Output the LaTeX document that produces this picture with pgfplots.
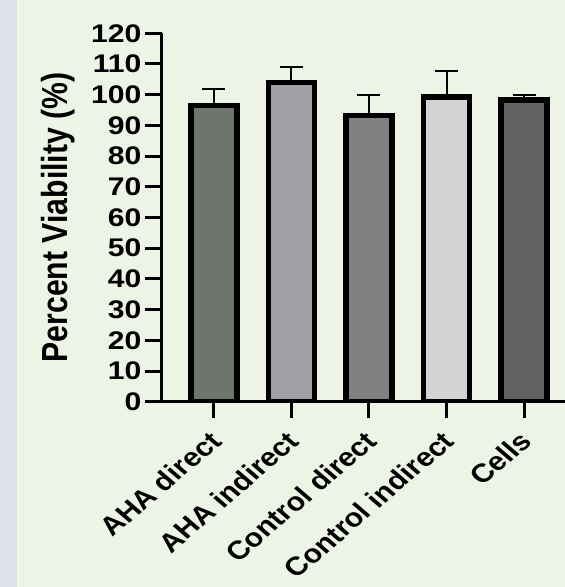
\documentclass[border=0pt]{standalone}
\usepackage{fontspec}
\setmainfont{Liberation Sans}
\usepackage{pgfplots}
\pgfplotsset{compat=1.18}
\definecolor{bg}{HTML}{EDF4E5}
\definecolor{strip}{HTML}{DCE1EA}
\definecolor{cA}{HTML}{6E756D}
\definecolor{cB}{HTML}{A0A0A4}
\definecolor{cC}{HTML}{808080}
\definecolor{cD}{HTML}{D3D3D3}
\definecolor{cE}{HTML}{626262}
\begin{document}
\begin{tikzpicture}
\useasboundingbox (0,0) rectangle (565pt,587pt);
\fill[bg] (0,0) rectangle (565pt,587pt);
\fill[strip] (0,0) rectangle (17.3pt,587pt);
\begin{axis}[
  at={(161.7pt,185.3pt)}, anchor=south west,
  scale only axis, width=403.3pt, height=368.4pt,
  xmin=-0.671, xmax=4.526, ymin=0, ymax=120,
  axis lines=left,
  axis line style={-, line width=3pt, black},
  ytick={0,10,...,120},
  xtick={0,1,2,3,4},
  xticklabels={AHA direct, AHA indirect, Control direct, Control indirect, Cells},
  tick align=outside, major tick length=16.5pt,
  tick style={line width=3pt, black},
  yticklabel style={font=\fontsize{25.5}{27}\selectfont\bfseries, xscale=1.18, anchor=east, inner sep=0pt, xshift=-3pt},
  xticklabel style={font=\fontsize{26}{28}\selectfont\bfseries, yshift=-18pt, xshift=2pt, xscale=1.165, rotate=45, anchor=east, inner sep=0pt},
  /pgf/number format/assume math mode=true,
  every axis y label/.style={at={(rel axis cs:0,0.5)}, xshift=-103.7pt, xscale=1.2, rotate=90, anchor=center, font=\fontsize{30.2}{32}\selectfont\bfseries},
  ylabel={Percent Viability (\%)},
  ybar, bar width=46pt, bar shift=0pt,
]
\addplot[fill=cA, draw=black, line width=5.5pt,
  error bars/.cd, y dir=plus, y explicit,
  error bar style={line width=2pt, black},
  error mark options={rotate=90, line width=2pt, mark size=11.5pt, black}]
  coordinates {(0,96.5) +- (0,5.3)};
\addplot[fill=cB, draw=black, line width=5.5pt,
  error bars/.cd, y dir=plus, y explicit,
  error bar style={line width=2pt, black},
  error mark options={rotate=90, line width=2pt, mark size=11.5pt, black}]
  coordinates {(1,103.9) +- (0,5.1)};
\addplot[fill=cC, draw=black, line width=5.5pt,
  error bars/.cd, y dir=plus, y explicit,
  error bar style={line width=2pt, black},
  error mark options={rotate=90, line width=2pt, mark size=11.5pt, black}]
  coordinates {(2,93.2) +- (0,6.7)};
\addplot[fill=cD, draw=black, line width=5.5pt,
  error bars/.cd, y dir=plus, y explicit,
  error bar style={line width=2pt, black},
  error mark options={rotate=90, line width=2pt, mark size=11.5pt, black}]
  coordinates {(3,99.3) +- (0,8.4)};
\addplot[fill=cE, draw=black, line width=5.5pt,
  error bars/.cd, y dir=plus, y explicit,
  error bar style={line width=2pt, black},
  error mark options={rotate=90, line width=2pt, mark size=11.5pt, black}]
  coordinates {(4,98.3) +- (0,1.7)};
\end{axis}
\end{tikzpicture}
\end{document}
